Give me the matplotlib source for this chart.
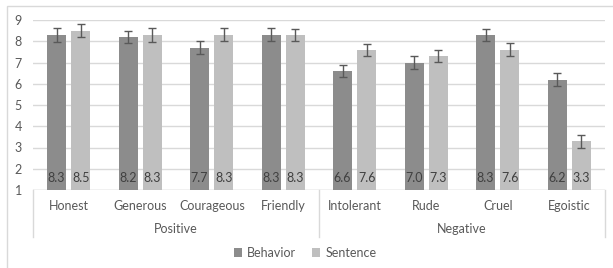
import numpy as np
import matplotlib
matplotlib.use("Agg")
import matplotlib.pyplot as plt
from matplotlib.patches import Rectangle

plt.rcParams['font.family'] = ['Lato', 'DejaVu Sans']

categories = ["Honest", "Generous", "Courageous", "Friendly",
              "Intolerant", "Rude", "Cruel", "Egoistic"]
groups = ["Positive", "Negative"]
behavior = [8.3, 8.2, 7.7, 8.3, 6.6, 7.0, 8.3, 6.2]
sentence = [8.5, 8.3, 8.3, 8.3, 7.6, 7.3, 7.6, 3.3]
behavior_err = [0.33, 0.30, 0.29, 0.31, 0.30, 0.30, 0.29, 0.30]
sentence_err = [0.29, 0.32, 0.31, 0.29, 0.29, 0.29, 0.31, 0.31]
yticks = [1, 2, 3, 4, 5, 6, 7, 8, 9]

W, H = 613, 268
fig = plt.figure(figsize=(W / 100, H / 100), dpi=100)
ax = fig.add_axes([33 / W, (H - 190) / H, 572 / W, 170 / H])

x = np.arange(len(categories))
bw = 0.265
off = 0.17
c_beh = "#8c8c8c"
c_sen = "#bfbfbf"
txt = "#595959"

ax.bar(x - off, np.array(behavior) - 1, bw, bottom=1, color=c_beh, label="Behavior", zorder=2)
ax.bar(x + off, np.array(sentence) - 1, bw, bottom=1, color=c_sen, label="Sentence", zorder=2)
ax.errorbar(x - off, behavior, yerr=behavior_err, fmt="none", ecolor="#595959",
            elinewidth=1, capsize=3, capthick=1, zorder=3)
ax.errorbar(x + off, sentence, yerr=sentence_err, fmt="none", ecolor="#595959",
            elinewidth=1, capsize=3, capthick=1, zorder=3)

for i in range(len(categories)):
    ax.text(x[i] - off, 1.58, f"{behavior[i]:.1f}", ha="center", va="center",
            fontsize=9, color="#404040", zorder=4)
    ax.text(x[i] + off, 1.58, f"{sentence[i]:.1f}", ha="center", va="center",
            fontsize=9, color="#404040", zorder=4)

ax.set_xlim(-0.5, len(categories) - 0.5)
ax.set_ylim(1, 9)
ax.set_yticks(yticks)
ax.set_yticklabels([str(v) for v in yticks], color=txt, fontsize=9)
ax.tick_params(axis="y", length=0, pad=8)
ax.set_xticks([])
ax.grid(axis="y", color="#d9d9d9", linewidth=1, zorder=0)
for s in ax.spines.values():
    s.set_visible(False)
ax.axhline(1, color="#d9d9d9", linewidth=1, zorder=1)

# category and group labels below the axis
for i, c in enumerate(categories):
    ax.text(x[i], -0.095, c, transform=ax.get_xaxis_transform(), ha="center",
            va="center", fontsize=9, color=txt)
for g, gi in enumerate(groups):
    ax.text(1.5 + 4 * g, -0.23, gi, transform=ax.get_xaxis_transform(), ha="center",
            va="center", fontsize=9, color=txt)
for xs in [-0.5, 3.5, 7.5]:
    ax.plot([xs, xs], [0, -0.275], transform=ax.get_xaxis_transform(),
            color="#d9d9d9", linewidth=1, clip_on=False)

fig.legend(loc="center", bbox_to_anchor=(305 / W, 1 - 253 / H), ncol=2, frameon=False,
           fontsize=9, labelcolor=txt, handlelength=0.7, handleheight=0.7,
           handletextpad=0.4, columnspacing=1.2)

fig.add_artist(Rectangle((7 / W, -0.1), 1.2, 1 - 6 / H + 0.1, transform=fig.transFigure,
                         fill=False, edgecolor="#d9d9d9", linewidth=1))

fig.savefig("out.png", dpi=100)
